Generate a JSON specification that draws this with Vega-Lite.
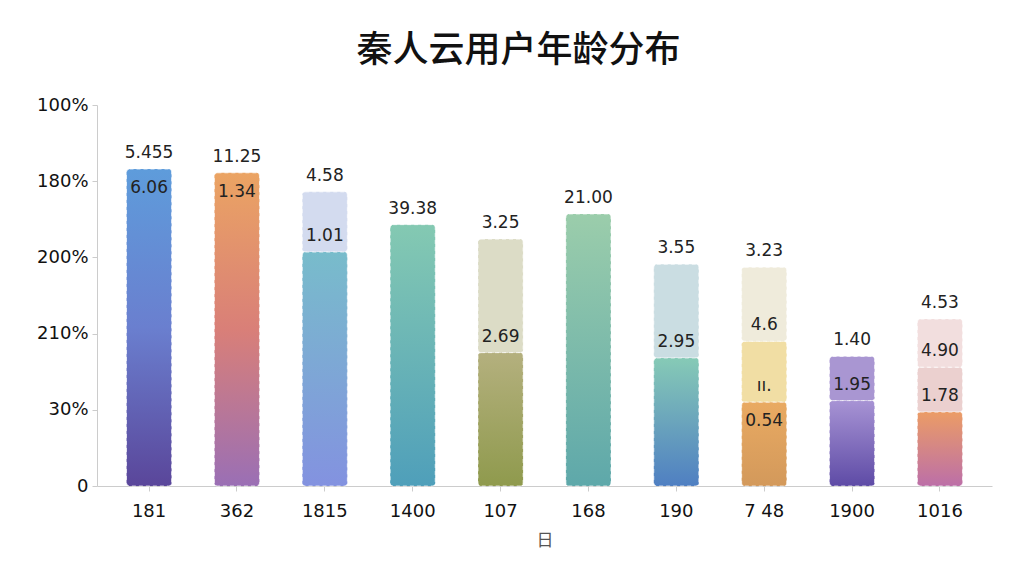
{
  "$schema": "https://vega.github.io/schema/vega-lite/v6.json",
  "width": 895,
  "height": 381,
  "autosize": {"type": "none"},
  "padding": {"left": 97, "top": 105, "right": 32, "bottom": 90},
  "background": "white",
  "title": {
    "text": "秦人云用户年龄分布",
    "font": "Noto Sans CJK SC",
    "fontSize": 36,
    "fontWeight": 500,
    "color": "#111111",
    "anchor": "middle",
    "dx": -26,
    "offset": 26
  },
  "config": {"view": {"stroke": null}},
  "data": {
    "values": [
      {"cat": "181", "seg": 0, "key": "181-0", "v": 4.16, "label": "5.455", "inner": "6.06"},
      {"cat": "362", "seg": 0, "key": "362-0", "v": 4.11, "label": "11.25", "inner": "1.34"},
      {"cat": "1815", "seg": 0, "key": "1815-0", "v": 3.07, "label": "1.01"},
      {"cat": "1815", "seg": 1, "key": "1815-1", "v": 0.79, "label": "4.58"},
      {"cat": "1400", "seg": 0, "key": "1400-0", "v": 3.43, "label": "39.38"},
      {"cat": "107", "seg": 0, "key": "107-0", "v": 1.75, "label": "2.69"},
      {"cat": "107", "seg": 1, "key": "107-1", "v": 1.49, "label": "3.25"},
      {"cat": "168", "seg": 0, "key": "168-0", "v": 3.57, "label": "21.00"},
      {"cat": "190", "seg": 0, "key": "190-0", "v": 1.68, "label": "2.95"},
      {"cat": "190", "seg": 1, "key": "190-1", "v": 1.23, "label": "3.55"},
      {"cat": "7 48", "seg": 0, "key": "748-0", "v": 1.10, "label": "ıı.", "inner": "0.54"},
      {"cat": "7 48", "seg": 1, "key": "748-1", "v": 0.80, "label": "4.6"},
      {"cat": "7 48", "seg": 2, "key": "748-2", "v": 0.97, "label": "3.23"},
      {"cat": "1900", "seg": 0, "key": "1900-0", "v": 1.12, "label": "1.95"},
      {"cat": "1900", "seg": 1, "key": "1900-1", "v": 0.58, "label": "1.40"},
      {"cat": "1016", "seg": 0, "key": "1016-0", "v": 0.97, "label": "1.78"},
      {"cat": "1016", "seg": 1, "key": "1016-1", "v": 0.59, "label": "4.90"},
      {"cat": "1016", "seg": 2, "key": "1016-2", "v": 0.63, "label": "4.53"}
    ]
  },
  "transform": [
    {"stack": "v", "groupby": ["cat"], "sort": [{"field": "seg", "order": "ascending"}], "as": ["y0", "y1"]}
  ],
  "encoding": {
    "x": {
      "field": "cat",
      "type": "nominal",
      "sort": ["181", "362", "1815", "1400", "107", "168", "190", "7 48", "1900", "1016"],
      "scale": {"paddingInner": 0.487, "paddingOuter": 0.336},
      "axis": {
        "title": "日",
        "titleFont": "Noto Sans CJK SC",
        "titleFontSize": 17,
        "titleFontWeight": "normal",
        "titleColor": "#555555",
        "titlePadding": 12,
        "labelAngle": 0,
        "labelFont": "DejaVu Sans",
        "labelFontSize": 18,
        "labelColor": "#111111",
        "labelPadding": 11,
        "tickSize": 5,
        "tickColor": "#cccccc",
        "domainColor": "#cccccc",
        "grid": false
      }
    },
    "y": {
      "field": "y1",
      "type": "quantitative",
      "scale": {"domain": [0, 5], "nice": false, "zero": true},
      "axis": {
        "title": null,
        "values": [0, 1, 2, 3, 4, 5],
        "labelExpr": "datum.value == 0 ? '0' : datum.value == 1 ? '30%' : datum.value == 2 ? '210%' : datum.value == 3 ? '200%' : datum.value == 4 ? '180%' : '100%'",
        "labelFont": "DejaVu Sans",
        "labelFontSize": 18,
        "labelColor": "#111111",
        "labelPadding": 4,
        "tickSize": 5,
        "tickColor": "#cccccc",
        "domainColor": "#cccccc",
        "grid": false
      }
    }
  },
  "layer": [
    {
      "transform": [{"filter": "datum.seg > 0"}],
      "mark": {"type": "bar", "cornerRadius": 3, "stroke": "white", "strokeWidth": 1, "strokeOpacity": 0.7, "strokeDash": [4, 3]},
      "encoding": {
        "y2": {"field": "y0"},
        "color": {
          "field": "key",
          "type": "nominal",
          "legend": null,
          "scale": {
            "domain": ["1815-1", "107-1", "190-1", "748-1", "748-2", "1900-1", "1016-1", "1016-2"],
            "range": ["#d3dbef", "#dcdcc6", "#cadde2", "#f1dea4", "#efebdb", "#a996d2", "#ebd0cf", "#f2dede"]
          }
        }
      }
    },
    {
      "transform": [{"filter": "datum.key == '181-0'"}],
      "mark": {"type": "bar", "cornerRadius": 3, "stroke": "white", "strokeWidth": 1, "strokeOpacity": 0.7, "strokeDash": [4, 3],
        "color": {"gradient": "linear", "x1": 0, "y1": 0, "x2": 0, "y2": 1, "stops": [{"offset": 0, "color": "#5e9cdb"}, {"offset": 0.5, "color": "#6a7fcf"}, {"offset": 1, "color": "#5a469a"}]}},
      "encoding": {"y2": {"field": "y0"}}
    },
    {
      "transform": [{"filter": "datum.key == '362-0'"}],
      "mark": {"type": "bar", "cornerRadius": 3, "stroke": "white", "strokeWidth": 1, "strokeOpacity": 0.7, "strokeDash": [4, 3],
        "color": {"gradient": "linear", "x1": 0, "y1": 0, "x2": 0, "y2": 1, "stops": [{"offset": 0, "color": "#eba463"}, {"offset": 0.5, "color": "#d97f78"}, {"offset": 1, "color": "#9a6fb5"}]}},
      "encoding": {"y2": {"field": "y0"}}
    },
    {
      "transform": [{"filter": "datum.key == '1815-0'"}],
      "mark": {"type": "bar", "cornerRadius": 3, "stroke": "white", "strokeWidth": 1, "strokeOpacity": 0.7, "strokeDash": [4, 3],
        "color": {"gradient": "linear", "x1": 0, "y1": 0, "x2": 0, "y2": 1, "stops": [{"offset": 0, "color": "#78bccb"}, {"offset": 1, "color": "#8392e0"}]}},
      "encoding": {"y2": {"field": "y0"}}
    },
    {
      "transform": [{"filter": "datum.key == '1400-0'"}],
      "mark": {"type": "bar", "cornerRadius": 3, "stroke": "white", "strokeWidth": 1, "strokeOpacity": 0.7, "strokeDash": [4, 3],
        "color": {"gradient": "linear", "x1": 0, "y1": 0, "x2": 0, "y2": 1, "stops": [{"offset": 0, "color": "#84c9b2"}, {"offset": 1, "color": "#4f9fba"}]}},
      "encoding": {"y2": {"field": "y0"}}
    },
    {
      "transform": [{"filter": "datum.key == '107-0'"}],
      "mark": {"type": "bar", "cornerRadius": 3, "stroke": "white", "strokeWidth": 1, "strokeOpacity": 0.7, "strokeDash": [4, 3],
        "color": {"gradient": "linear", "x1": 0, "y1": 0, "x2": 0, "y2": 1, "stops": [{"offset": 0, "color": "#b4b07e"}, {"offset": 1, "color": "#8f9a4d"}]}},
      "encoding": {"y2": {"field": "y0"}}
    },
    {
      "transform": [{"filter": "datum.key == '168-0'"}],
      "mark": {"type": "bar", "cornerRadius": 3, "stroke": "white", "strokeWidth": 1, "strokeOpacity": 0.7, "strokeDash": [4, 3],
        "color": {"gradient": "linear", "x1": 0, "y1": 0, "x2": 0, "y2": 1, "stops": [{"offset": 0, "color": "#9bcdab"}, {"offset": 1, "color": "#5ea8aa"}]}},
      "encoding": {"y2": {"field": "y0"}}
    },
    {
      "transform": [{"filter": "datum.key == '190-0'"}],
      "mark": {"type": "bar", "cornerRadius": 3, "stroke": "white", "strokeWidth": 1, "strokeOpacity": 0.7, "strokeDash": [4, 3],
        "color": {"gradient": "linear", "x1": 0, "y1": 0, "x2": 0, "y2": 1, "stops": [{"offset": 0, "color": "#86cab6"}, {"offset": 1, "color": "#4f7fc2"}]}},
      "encoding": {"y2": {"field": "y0"}}
    },
    {
      "transform": [{"filter": "datum.key == '748-0'"}],
      "mark": {"type": "bar", "cornerRadius": 3, "stroke": "white", "strokeWidth": 1, "strokeOpacity": 0.7, "strokeDash": [4, 3],
        "color": {"gradient": "linear", "x1": 0, "y1": 0, "x2": 0, "y2": 1, "stops": [{"offset": 0, "color": "#e9aa62"}, {"offset": 1, "color": "#d3995b"}]}},
      "encoding": {"y2": {"field": "y0"}}
    },
    {
      "transform": [{"filter": "datum.key == '1900-0'"}],
      "mark": {"type": "bar", "cornerRadius": 3, "stroke": "white", "strokeWidth": 1, "strokeOpacity": 0.7, "strokeDash": [4, 3],
        "color": {"gradient": "linear", "x1": 0, "y1": 0, "x2": 0, "y2": 1, "stops": [{"offset": 0, "color": "#a793d4"}, {"offset": 1, "color": "#5e4ba6"}]}},
      "encoding": {"y2": {"field": "y0"}}
    },
    {
      "transform": [{"filter": "datum.key == '1016-0'"}],
      "mark": {"type": "bar", "cornerRadius": 3, "stroke": "white", "strokeWidth": 1, "strokeOpacity": 0.7, "strokeDash": [4, 3],
        "color": {"gradient": "linear", "x1": 0, "y1": 0, "x2": 0, "y2": 1, "stops": [{"offset": 0, "color": "#eb9c66"}, {"offset": 1, "color": "#bc6fa8"}]}},
      "encoding": {"y2": {"field": "y0"}}
    },
    {
      "mark": {"type": "text", "font": "DejaVu Sans", "fontSize": 17, "color": "#222222", "dy": -16, "baseline": "middle"},
      "encoding": {"text": {"field": "label"}}
    },
    {
      "transform": [{"filter": "datum.inner != null"}],
      "mark": {"type": "text", "font": "DejaVu Sans", "fontSize": 17, "color": "#222222", "dy": 19, "baseline": "middle"},
      "encoding": {"text": {"field": "inner"}}
    }
  ]
}
